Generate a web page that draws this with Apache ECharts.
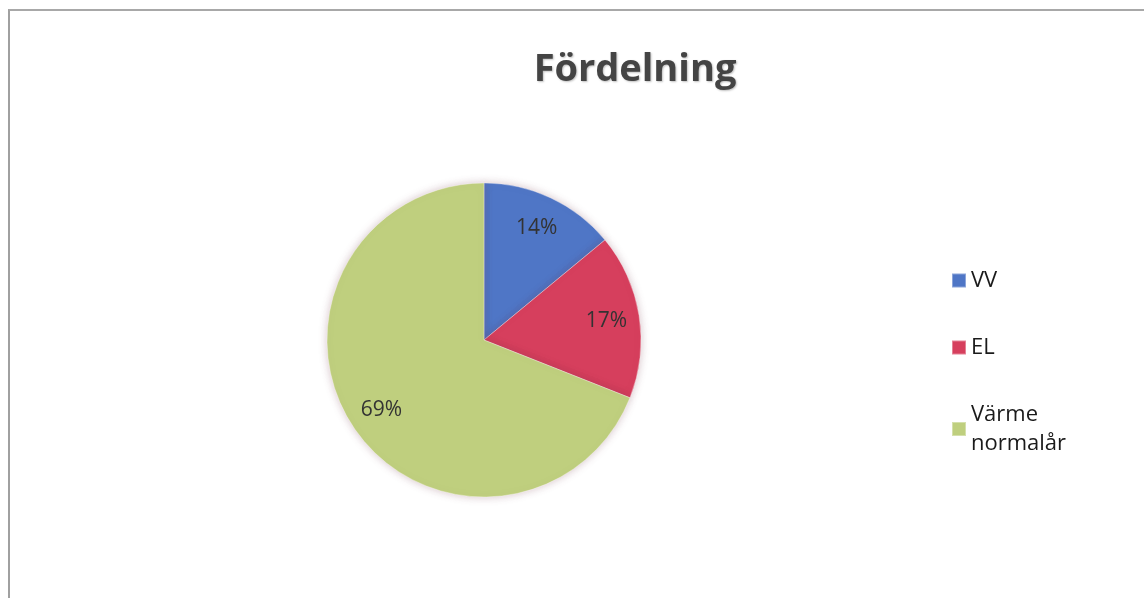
<!DOCTYPE html>
<html>
<head>
<meta charset="utf-8">
<script src="https://cdn.jsdelivr.net/npm/echarts@6/dist/echarts.min.js"></script>
<style>
  html, body { margin: 0; padding: 0; background: #fff; }
  #main { width: 1144px; height: 598px; }
  .frame {
    position: absolute;
    left: 8px;
    top: 9px;
    width: 1200px;
    height: 700px;
    border-left: 2px solid #a0a0a0;
    border-top: 2px solid #a8a8a8;
    pointer-events: none;
  }
</style>
</head>
<body>
<div id="main"></div>
<div class="frame"></div>
<script>
// data
const categories = ["VV", "EL", "Värme normalår"];
const shares = [14, 17, 69];
const sliceColors = ["#4f76c6", "#d63f5d", "#bfcf7e"];

const chart = echarts.init(document.getElementById("main"));

const pieData = categories.map((name, i) => ({
  name: name,
  value: shares[i],
  itemStyle: { color: sliceColors[i] },
}));

const option = {
  backgroundColor: "#fff",
  title: {
    text: "Fördelning",
    left: 630,
    top: 46,
    textAlign: "center",
    textStyle: {
      fontFamily: "Open Sans",
      fontWeight: "bold",
      fontSize: 38,
      color: "#444",
      textShadowColor: "rgba(0,0,0,0.25)",
      textShadowBlur: 2,
      textShadowOffsetX: 1,
      textShadowOffsetY: 1,
    },
  },
  legend: {
    orient: "vertical",
    left: 946,
    top: 261,
    itemWidth: 14,
    itemHeight: 14,
    itemGap: 38,
    icon: "rect",
    data: categories,
    formatter: (name) => name.replace(" ", "\n"),
    textStyle: {
      fontFamily: "Open Sans",
      fontSize: 22,
      lineHeight: 29,
      color: "#1a1a1a",
    },
  },
  series: [
    {
      type: "pie",
      center: [484, 340],
      radius: [0, 157],
      startAngle: 90,
      clockwise: true,
      silent: true,
      label: { show: false },
      labelLine: { show: false },
      itemStyle: {
        borderColor: "rgba(255,255,255,0.35)",
        borderWidth: 1,
        shadowBlur: 8,
        shadowColor: "rgba(120,60,80,0.3)",
      },
      data: pieData,
    },
    {
      // ring used only to place the percentage labels further out
      type: "pie",
      center: [484, 340],
      radius: [85, 157],
      startAngle: 90,
      clockwise: true,
      silent: true,
      legendHoverLink: false,
      itemStyle: { color: "rgba(0,0,0,0)" },
      label: {
        show: true,
        position: "inside",
        formatter: (p) => p.value + "%",
        fontFamily: "Open Sans",
        fontSize: 21,
        color: "#333",
      },
      labelLine: { show: false },
      data: categories.map((name, i) => ({ name: name + " ", value: shares[i] })),
    },
  ],
};

chart.setOption(option);
</script>
</body>
</html>
